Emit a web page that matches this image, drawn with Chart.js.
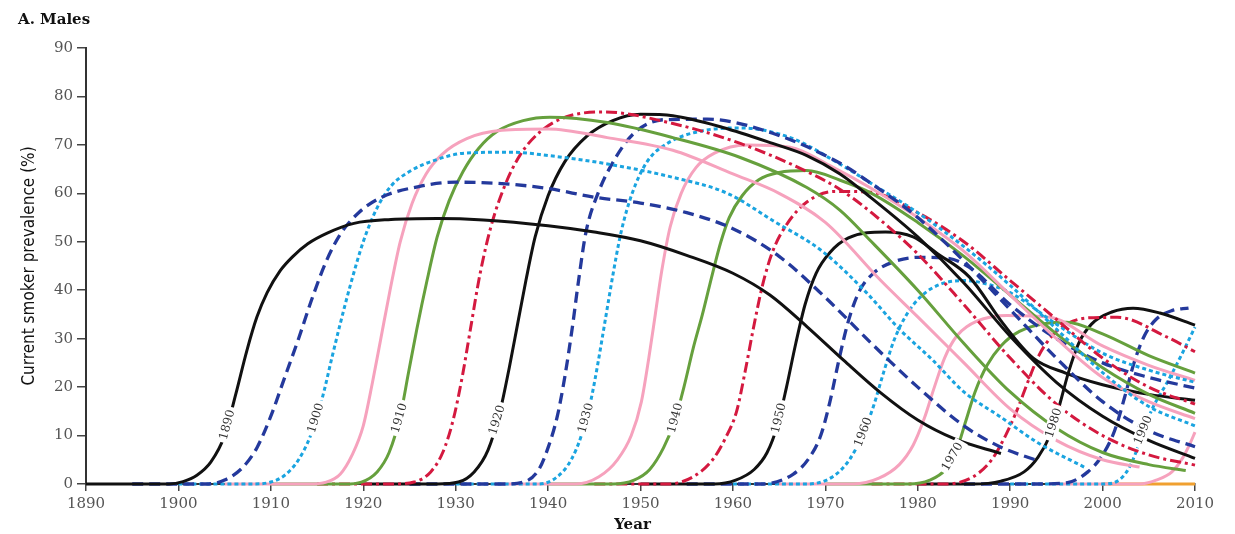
<!DOCTYPE html>
<html><head><meta charset="utf-8">
<script src="https://cdn.jsdelivr.net/npm/chart.js@4.4.1/dist/chart.umd.min.js"></script>
<style>html,body{margin:0;padding:0;background:#fff;}#wrap{width:1235px;height:534px;position:relative;}</style>
</head><body><div id="wrap"><canvas id="c" width="1235" height="534"></canvas></div>
<script>
// Birth cohorts
const cohorts = [1890,1895,1900,1905,1910,1915,1920,1925,1930,1935,1940,1945,1950,1955,1960,1965,1970,1975,1980,1985,1990,1995,2000];
// Each cohort: [calendar year, current smoker prevalence %]
const c1890 = [[1890,0],[1899,0],[1900.5,0.5],[1902,1.8],[1903.5,4.5],[1905,10],[1906.2,18.5],[1907.4,27.5],[1908.5,34.5],[1909.6,39.5],[1911,44],[1912.4,47],[1914,49.6],[1916.1,51.8],[1919,53.8],[1923,54.6],[1928,54.8],[1933,54.5],[1940,53.3],[1945,52],[1950,50.2],[1955,47.2],[1960,43.5],[1964,39],[1968,32.5],[1972,25.5],[1976,18.8],[1980,13.2],[1984,9.3],[1989,6.3]];
const c1895 = [[1895,0],[1903,0],[1905,0.8],[1907,3.5],[1908.5,7.5],[1910,14],[1911.5,22],[1913,30],[1914.5,38.5],[1916,46],[1917.5,51.5],[1919.5,56],[1922,59.2],[1926,61.4],[1930,62.3],[1935,62],[1940,61],[1945,59.2],[1950,58],[1955,56],[1960,52.7],[1965,47],[1970,38.5],[1975,29],[1980,20],[1985,12],[1989,7.6],[1993,4.8]];
const c1900 = [[1900,0],[1908,0],[1910,0.4],[1911.5,1.8],[1913,5],[1914.3,10],[1915.6,18],[1916.6,26],[1917.5,33],[1918.6,41],[1920,50],[1921.5,57],[1923,61.5],[1925,64.5],[1928,67],[1931,68.3],[1936,68.5],[1940,67.8],[1946,66.2],[1953.5,63.3],[1959.4,60],[1964.3,54.4],[1969.7,48],[1974.5,39.4],[1978,32],[1981.6,25.6],[1985,19],[1989,13.8],[1993,8.5],[1998,3.5]];
const c1905 = [[1905,0],[1914,0],[1916,0.4],[1917.5,2],[1918.8,6],[1920,12],[1921,21],[1921.9,30],[1922.9,40],[1924,50],[1925.3,58],[1926.8,64],[1928.5,68],[1931.2,71.3],[1935,73],[1940,73.3],[1946.4,71.5],[1953.5,68.9],[1960,64],[1965,60],[1970,54],[1976,42],[1980,34.5],[1985,25],[1990,15.5],[1995,9],[2000,5],[2004,3.5]];
const c1910 = [[1910,0],[1918,0],[1919.8,0.4],[1921.5,2.5],[1922.8,6.5],[1924,14],[1924.9,23],[1925.8,32],[1926.9,42],[1928,51],[1929.3,58.5],[1930.8,64.5],[1932.5,69.3],[1934.5,72.8],[1937.3,75],[1940.2,75.7],[1946.4,74.6],[1953.5,71.5],[1960.8,67.4],[1968,61.2],[1971.6,56.5],[1975,50],[1980,40],[1985,29],[1990,19],[1995,11.5],[2000,6.5],[2005,4],[2009,2.8]];
const c1915 = [[1915,0],[1923,0],[1925.5,0.4],[1927.3,2.5],[1928.6,6.5],[1929.7,13],[1930.7,22],[1931.6,32],[1932.6,43],[1933.8,53],[1935.3,61.5],[1937,68],[1939.2,72.8],[1942,75.8],[1946,76.8],[1953.5,74.4],[1960.8,70.3],[1968,64.5],[1971.6,60.8],[1975,56],[1980,47.5],[1985,37],[1990,26],[1995,16.5],[2000,10],[2005,6],[2010,3.9]];
const c1920 = [[1920,0],[1928,0],[1930.3,0.4],[1932,2.5],[1933.5,7],[1934.8,15],[1935.8,24],[1936.7,33],[1937.6,42],[1938.6,51],[1940,59.5],[1941.8,66.5],[1944.2,71.8],[1947,75],[1950,76.3],[1953.5,76],[1958.9,73.6],[1964.3,70.3],[1968,67.8],[1971.6,64],[1975,59],[1980,51],[1985,41.5],[1990,30.5],[1995,21],[2000,14],[2005,9],[2010,5.3]];
const c1925 = [[1925,0],[1935,0],[1937.5,0.5],[1939,3],[1940,7.5],[1941,14],[1941.8,22],[1942.6,32],[1943.3,42],[1944.1,52],[1945.4,60],[1947.2,67],[1949.3,72.4],[1952.5,75.2],[1957.2,75.3],[1964.3,72.4],[1971.6,66.2],[1975,62],[1980,55],[1985,46],[1990,36],[1995,26],[2000,17],[2005,11],[2010,7.7]];
const c1930 = [[1930,0],[1939,0],[1941,1.5],[1942.5,5],[1943.6,10],[1944.6,17],[1945.4,25],[1946.2,34],[1947,43],[1947.9,52],[1949.1,60],[1950.7,66.5],[1952.9,70.3],[1956.4,72.8],[1960.8,73.5],[1966.2,71.5],[1971.6,66],[1975,62],[1980,56],[1985,49],[1990,41],[1995,32],[2000,23],[2005,16],[2010,12]];
const c1935 = [[1935,0],[1943,0],[1945.5,1.5],[1947.5,5],[1949,10],[1950.1,17],[1950.9,26],[1951.6,35],[1952.3,44],[1953.2,53],[1954.4,60],[1956,65.3],[1958,68.3],[1961.5,70],[1966.2,69.5],[1970.8,65.4],[1975,61],[1980,55],[1985,48],[1990,39],[1995,30],[2000,22],[2005,17],[2010,13.5]];
const c1940 = [[1940,0],[1947,0],[1949.3,0.8],[1951,3],[1952.5,7.5],[1953.7,13],[1954.7,20],[1955.7,28],[1956.7,35],[1957.8,43.5],[1958.7,50],[1959.6,55],[1961,59.5],[1962.8,62.8],[1965,64.3],[1968,64.7],[1971.6,62.7],[1975,60],[1980,54],[1985,47],[1990,39],[1995,31],[2000,24],[2005,18.5],[2010,14.6]];
const c1945 = [[1945,0],[1953,0],[1955.7,1.5],[1957.8,5],[1959.2,9.5],[1960.4,15],[1961.3,23],[1962.2,32],[1963.2,41],[1964.3,48],[1965.9,53.8],[1968,58.2],[1971,60.4],[1975,60.2],[1980,56],[1985,50],[1990,42],[1995,34],[2000,26],[2005,20],[2010,16.5]];
const c1950 = [[1950,0],[1958,0],[1960.3,0.8],[1962.3,3],[1963.7,6.5],[1964.8,12],[1965.8,20],[1966.8,29],[1967.8,37],[1969,43.5],[1970.5,47.8],[1972.5,50.8],[1976.5,52],[1979.5,51],[1982.1,47.6],[1985.6,42.7],[1989.2,33.2],[1992.5,26],[1996,22.9],[2000,20.5],[2005,18.5],[2010,17.3]];
const c1955 = [[1955,0],[1963,0],[1966.5,2],[1968.3,5.5],[1969.5,10],[1970.5,17],[1971.4,25],[1972.4,33],[1973.6,39.5],[1975.2,43.5],[1977.3,45.8],[1980.2,46.8],[1983.2,46.6],[1985.6,44.7],[1990,37],[1995,30],[2000,25],[2005,22],[2010,19.8]];
const c1960 = [[1960,0],[1968,0],[1970.8,1.5],[1972.6,5],[1974,10],[1975.2,16],[1976.3,23],[1977.4,29.5],[1978.8,35],[1980.4,38.8],[1982.4,41.2],[1985,42],[1987,41.5],[1990,39.5],[1995,33],[2000,27],[2005,23.5],[2010,21]];
const c1965 = [[1965,0],[1973,0],[1975.8,1.2],[1978,4],[1979.5,8],[1980.7,13.5],[1981.8,20],[1982.9,26],[1984.2,30.5],[1986.4,33.6],[1989.7,34.8],[1994.3,34.4],[2000,28.5],[2005,24.5],[2010,21.4]];
const c1970 = [[1970,0],[1979,0],[1981.3,0.8],[1983,3],[1984.2,7],[1985.2,13],[1986.2,19],[1987.5,24.5],[1989,28.5],[1991,31.5],[1994,33.2],[1996.1,33.4],[2000,31],[2005,26.5],[2010,22.9]];
const c1975 = [[1975,0],[1983,0],[1986,1.5],[1988,5],[1989.5,10],[1990.8,15.5],[1991.9,21],[1993.1,26.5],[1994.5,30.5],[1996.3,33.2],[1998.5,34.3],[2001.6,34.4],[2007,30.3],[2010,27.3]];
const c1980 = [[1980,0],[1986,0],[1989,0.6],[1991.5,2.5],[1993,5.5],[1994.3,10],[1995.3,16],[1996.3,23],[1997.4,29],[1998.8,33],[2001,35.5],[2003.3,36.3],[2006.2,35.3],[2010,32.8]];
const c1985 = [[1985,0],[1993,0],[1996.2,0.3],[1998.4,2.5],[2000,6],[2001.3,11],[2002.4,18],[2003.4,25],[2004.5,30.5],[2005.8,34],[2007.5,35.8],[2009.3,36.3]];
const c1990 = [[1990,0],[2000,0],[2001.5,0.5],[2002.6,2.5],[2003.5,6],[2004.4,11],[2005.5,16],[2007,21],[2008.5,26.5],[2010,32.4]];
const c1995 = [[1995,0],[2004,0],[2005.8,0.8],[2007.5,2.5],[2008.7,5.5],[2009.5,8.5],[2010,10.7]];
const c2000 = [[2000,0],[2010,0]];
const series = [c1890,c1895,c1900,c1905,c1910,c1915,c1920,c1925,c1930,c1935,c1940,c1945,c1950,c1955,c1960,c1965,c1970,c1975,c1980,c1985,c1990,c1995,c2000];

// Curve labels: cohort and the prevalence level where the label sits on its rising branch
const labelCohorts = [1890,1900,1910,1920,1930,1940,1950,1960,1970,1980,1990];
const labelLevels  = [12.2,13.6,13.6,13.2,13.6,13.6,13.6,10.7,5.6,12.6,11.1];

const xTicks = [1890,1900,1910,1920,1930,1940,1950,1960,1970,1980,1990,2000,2010];
const yTicks = [0,10,20,30,40,50,60,70,80,90];

// styles (cycle of six)
const styleCycle = [
  {color:'#111111', dash:[], w:3},
  {color:'#24399c', dash:[11,6], w:3.3},
  {color:'#1aa4e0', dash:[4,3], w:3},
  {color:'#f6a2bd', dash:[], w:3},
  {color:'#66a03d', dash:[], w:3},
  {color:'#d4193f', dash:[11,4,3,4], w:3}
];

const datasets = series.map((s,i)=>{
  let st = styleCycle[i % 6];
  if (cohorts[i] === 2000) st = {color:'#f0a030', dash:[], w:3};
  return {
    label: String(cohorts[i]),
    data: s.map(p=>({x:p[0], y:p[1]})),
    borderColor: st.color,
    borderDash: st.dash,
    borderWidth: st.w,
    pointRadius: 0,
    fill: false,
    cubicInterpolationMode: 'monotone',
    clip: false,
    borderCapStyle: 'butt'
  };
});

const labelPlugin = {
  id: 'curveLabels',
  afterDatasetsDraw(chart) {
    const ctx = chart.ctx, xs = chart.scales.x, ys = chart.scales.y;
    ctx.save();
    ctx.font = '12px "DejaVu Serif", serif';
    labelCohorts.forEach((c, k) => {
      const s = series[cohorts.indexOf(c)];
      const lv = labelLevels[k];
      for (let i = 0; i < s.length - 1; i++) {
        const a = s[i], b = s[i+1];
        if (a[1] <= lv && b[1] >= lv && b[1] > a[1]) {
          const t = (lv - a[1]) / (b[1] - a[1]);
          const yr = a[0] + t * (b[0] - a[0]);
          const px = xs.getPixelForValue(yr), py = ys.getPixelForValue(lv);
          const ang = Math.atan2(ys.getPixelForValue(b[1]) - ys.getPixelForValue(a[1]), xs.getPixelForValue(b[0]) - xs.getPixelForValue(a[0]));
          const txt = String(c);
          const w = ctx.measureText(txt).width;
          ctx.save();
          ctx.translate(px, py);
          ctx.rotate(ang);
          ctx.fillStyle = '#ffffff';
          ctx.fillRect(-w/2 - 3, -7, w + 6, 14);
          ctx.fillStyle = '#333333';
          ctx.textAlign = 'center';
          ctx.textBaseline = 'middle';
          ctx.fillText(txt, 0, 0);
          ctx.restore();
          break;
        }
      }
    });
    ctx.restore();
  },
  afterDraw(chart) {
    const ctx = chart.ctx, a = chart.chartArea;
    ctx.save();
    ctx.fillStyle = '#111';
    ctx.font = 'bold 15px "DejaVu Serif", serif';
    ctx.textAlign = 'left';
    ctx.textBaseline = 'alphabetic';
    ctx.fillText('A. Males', 18, 24);
    ctx.font = 'bold 15px "DejaVu Serif", serif';
    ctx.textAlign = 'center';
    ctx.fillText('Year', (a.left + a.right) / 2 - 8, 529);
    ctx.translate(30, (a.top + a.bottom) / 2);
    ctx.rotate(-Math.PI / 2);
    ctx.font = '17px "Liberation Sans Narrow", "DejaVu Sans Condensed", sans-serif';
    ctx.textBaseline = 'middle';
    ctx.fillText('Current smoker prevalence (%)', 0, 0);
    ctx.restore();
  }
};

new Chart(document.getElementById('c'), {
  type: 'line',
  data: { datasets },
  options: {
    responsive: false,
    animation: false,
    devicePixelRatio: 1,
    layout: { padding: { top: 48, right: 40, left: 0, bottom: 0 } },
    plugins: { legend: { display: false }, tooltip: { enabled: false }, title: { display: false } },
    scales: {
      x: {
        type: 'linear', min: 1890, max: 2010,
        afterBuildTicks: sc => { sc.ticks = xTicks.map(v => ({value: v})); },
        afterFit: sc => { sc.height = 50; },
        ticks: { callback: v => String(v), color: '#555', font: { family: '"DejaVu Serif", serif', size: 15 }, padding: 4, maxRotation: 0 },
        grid: { drawOnChartArea: false, drawTicks: true, tickLength: 7, color: '#444', lineWidth: 1.5 },
        border: { display: true, color: '#333', width: 2 }
      },
      y: {
        type: 'linear', min: 0, max: 90,
        afterBuildTicks: sc => { sc.ticks = yTicks.map(v => ({value: v})); },
        afterFit: sc => { sc.width = 86; },
        ticks: { color: '#555', font: { family: '"DejaVu Serif", serif', size: 15 }, padding: 4 },
        grid: { drawOnChartArea: false, drawTicks: true, tickLength: 9, color: '#444', lineWidth: 1.5 },
        border: { display: true, color: '#333', width: 2 }
      }
    }
  },
  plugins: [labelPlugin]
});
</script></body></html>
